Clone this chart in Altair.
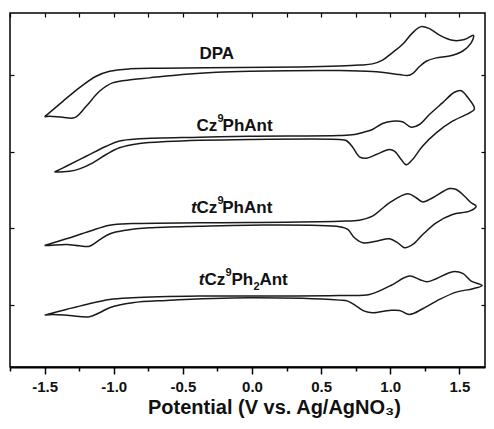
import altair as alt
import pandas as pd

# ---- cyclic voltammograms (potential in V, current in arbitrary offset units) ----
dpa_v = [-1.500, -1.370, -1.247, -1.127, -1.030, -0.886, -0.647, -0.090, 0.343, 0.633, 0.777,
         0.871, 0.944, 1.016, 1.088, 1.161, 1.223, 1.283, 1.356, 1.450, 1.537, 1.602,
         1.585, 1.522, 1.428, 1.332, 1.260, 1.211, 1.161, 1.124, 1.067, 0.871, 0.633,
         -0.018, -0.257, -0.503, -0.741, -0.864, -1.009, -1.103, -1.199, -1.283, -1.370,
         -1.464, -1.500]
dpa_i = [3.451, 3.649, 3.831, 3.978, 4.043, 4.074, 4.082, 4.091, 4.097, 4.110, 4.123,
         4.139, 4.188, 4.286, 4.390, 4.542, 4.623, 4.597, 4.513, 4.445, 4.455, 4.510,
         4.412, 4.303, 4.240, 4.217, 4.173, 4.104, 4.013, 3.987, 4.000, 4.039, 4.052,
         4.043, 4.030, 4.000, 3.957, 3.935, 3.892, 3.783, 3.588, 3.440, 3.445,
         3.458, 3.451]

cz_v = [-1.428, -1.343, -1.199, -1.054, -0.958, -0.813, -0.380, -0.018, 0.633, 0.741, 0.813,
        0.871, 0.944, 1.016, 1.088, 1.151, 1.211, 1.283, 1.377, 1.464, 1.513, 1.558, 1.609,
        1.573, 1.450, 1.332, 1.233, 1.161, 1.115, 1.079, 1.030, 0.994, 0.898, 0.826, 0.777,
        0.727, 0.681, 0.633, -0.018, -0.620, -0.813, -0.958, -1.054, -1.151, -1.247, -1.320,
        -1.428]
cz_i = [2.734, 2.809, 2.939, 3.069, 3.136, 3.165, 3.186, 3.199, 3.208, 3.221, 3.253,
        3.286, 3.364, 3.394, 3.386, 3.316, 3.351, 3.481, 3.632, 3.770, 3.790, 3.708, 3.555,
        3.503, 3.394, 3.243, 3.069, 2.896, 2.827, 2.896, 3.004, 3.026, 2.961, 2.912, 2.931,
        3.058, 3.143, 3.156, 3.156, 3.130, 3.104, 3.048, 2.961, 2.853, 2.775, 2.744,
        2.734]

tcz_v = [-1.500, -1.343, -1.175, -1.030, -0.864, -0.380, -0.018, 0.633, 0.777, 0.871, 0.994,
         1.127, 1.187, 1.235, 1.307, 1.428, 1.477, 1.537, 1.585, 1.621,
         1.573, 1.450, 1.332, 1.235, 1.163, 1.103, 1.054, 0.994, 0.898, 0.801, 0.741, 0.693,
         0.633, -0.018, -0.380, -0.741, -0.910, -1.030, -1.103, -1.175, -1.247, -1.343,
         -1.464, -1.500]
tcz_i = [1.779, 1.866, 1.965, 2.043, 2.065, 2.074, 2.078, 2.095, 2.108, 2.160, 2.334,
         2.451, 2.399, 2.344, 2.399, 2.519, 2.506, 2.419, 2.334, 2.290,
         2.225, 2.182, 2.074, 1.922, 1.792, 1.749, 1.814, 1.866, 1.835, 1.814, 1.879, 1.987,
         2.022, 2.043, 2.030, 2.009, 1.978, 1.929, 1.851, 1.770, 1.775, 1.792,
         1.779, 1.779]

tcz2_v = [-1.500, -1.343, -1.199, -1.030, -0.864, -0.380, -0.018, 0.633, 0.850, 0.994,
          1.139, 1.211, 1.264, 1.332, 1.452, 1.524, 1.585, 1.664,
          1.597, 1.477, 1.356, 1.235, 1.139, 1.067, 0.994, 0.873, 0.813, 0.755, 0.693,
          0.633, -0.018, -0.620, -0.864, -1.030, -1.103, -1.175, -1.320, -1.440, -1.500]
tcz2_i = [0.874, 0.948, 1.013, 1.078, 1.100, 1.121, 1.123, 1.130, 1.143, 1.251,
          1.381, 1.338, 1.308, 1.347, 1.439, 1.416, 1.316, 1.260,
          1.217, 1.173, 1.078, 0.957, 0.883, 0.935, 0.935, 0.905, 0.926, 0.991, 1.056,
          1.069, 1.100, 1.065, 1.035, 0.970, 0.905, 0.853, 0.870, 0.883, 0.874]

series_names = ["DPA", "Cz9PhAnt", "tCz9PhAnt", "tCz9Ph2Ant"]
series_v = [dpa_v, cz_v, tcz_v, tcz2_v]
series_i = [dpa_i, cz_i, tcz_i, tcz2_i]

# ---- label pieces (text, kind, potential, current) ----
label_text = ["DPA", "Cz", "PhAnt", "Cz", "PhAnt", "Cz", "Ph", "Ant",
              "t", "t", "9", "9", "9", "2"]
label_kind = ["main", "main", "main", "main", "main", "main", "main", "main",
              "ital", "ital", "small", "small", "small", "small"]
label_v = [-0.380, -0.401, -0.213, -0.401, -0.215, -0.343, -0.148, 0.054,
           -0.441, -0.385, -0.249, -0.249, -0.192, 0.011]
label_i = [4.204, 3.273, 3.273, 2.195, 2.195, 1.260, 1.260, 1.260,
           2.195, 1.260, 3.390, 2.312, 1.377, 1.195]

x_ticks = [-1.75 + 0.25 * k for k in range(14)]
y_ticks = [1, 2, 3, 4]

rows = []
for name, vs, cs in zip(series_names, series_v, series_i):
    for k, (v, c) in enumerate(zip(vs, cs)):
        rows.append({"series": name, "k": k, "V": v, "I": c})
df = pd.DataFrame(rows)
labels = pd.DataFrame({"text": label_text, "kind": label_kind, "V": label_v, "I": label_i})

FONT = "Liberation Sans"
xs = alt.Scale(domain=[-1.75, 1.685], nice=False, zero=False)
ys = alt.Scale(domain=[0.2, 4.8], nice=False, zero=False)

major_test = "datum.value % 0.5 === 0"
x_bottom = alt.Axis(
    orient="bottom", values=x_ticks, grid=False,
    labelExpr=major_test + " ? replace(format(datum.value, '.1f'), '\u2212', '-') : ''",
    tickSize={"condition": {"test": major_test, "value": 7}, "value": 4},
    tickWidth=1.5, tickColor="black", domainColor="black", domainWidth=2,
    labelFont=FONT, labelFontSize=15, labelFontWeight="bold", labelColor="#111",
    labelPadding=5, labelFlush=False, labelOverlap=False,
    title="Potential (V vs. Ag/AgNO\u2083)", titleFont=FONT, titleFontSize=20,
    titleFontWeight="bold", titleColor="#111", titlePadding=3, titleX=264,
)
y_left = alt.Axis(orient="left", values=y_ticks, labels=False, domain=False, grid=False,
                  tickSize=4, offset=-4, tickColor="black", tickWidth=1.2, title=None)
x_top = alt.Axis(orient="top", values=x_ticks, labels=False, domain=False, grid=False,
                 tickSize=4, offset=-4, tickColor="black", tickWidth=1.2, title=None)
y_right = alt.Axis(orient="right", values=y_ticks, labels=False, domain=False, grid=False,
                   tickSize=4, offset=-4, tickColor="black", tickWidth=1.2, title=None)

curves = alt.Chart(df).mark_line(
    color="#1a1a1a", strokeWidth=1.5, interpolate="catmull-rom"
).encode(
    x=alt.X("V:Q", scale=xs, axis=x_bottom),
    y=alt.Y("I:Q", scale=ys, axis=y_left),
    detail="series:N",
    order="k:Q",
)

frame = alt.Chart(df).mark_line(strokeOpacity=0).encode(
    x=alt.X("V:Q", scale=xs, axis=x_top),
    y=alt.Y("I:Q", scale=ys, axis=y_right),
    detail="series:N",
    order="k:Q",
)

def text_layer(kind, size, style):
    return alt.Chart(labels).transform_filter(
        alt.datum.kind == kind
    ).mark_text(
        align="left", baseline="alphabetic", font=FONT, fontSize=size,
        fontWeight="bold", fontStyle=style, color="#111"
    ).encode(
        x=alt.X("V:Q", scale=xs, axis=None),
        y=alt.Y("I:Q", scale=ys, axis=None),
        text="text:N",
    )

chart = alt.layer(
    curves, frame,
    text_layer("main", 17, "normal"),
    text_layer("ital", 17, "italic"),
    text_layer("small", 11, "normal"),
).resolve_axis(
    x="independent", y="independent"
).properties(
    width=475, height=354,
    padding={"left": 2, "top": 5, "right": 1, "bottom": 54},
    autosize=alt.AutoSizeParams(type="none"),
).configure_view(
    stroke="black", strokeWidth=1.5
)

chart.save("out.html", embed_options={"renderer": "svg", "actions": False})
